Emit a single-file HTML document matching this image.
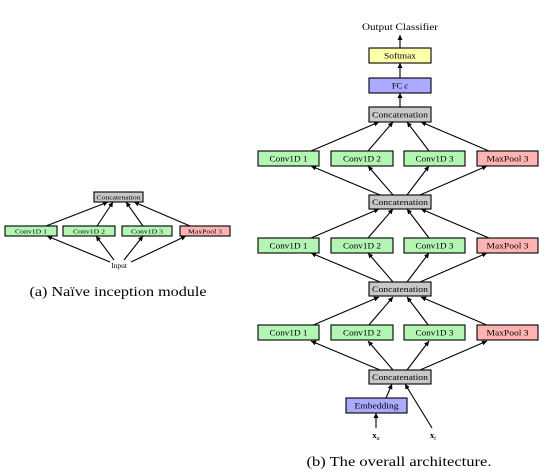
<!DOCTYPE html>
<html><head><meta charset="utf-8"><style>
body{margin:0;background:#fff;}
svg{display:block;}
text{font-family:"Liberation Serif",serif;fill:#000;}
</style></head><body>
<svg width="547" height="476" viewBox="0 0 547 476" xmlns="http://www.w3.org/2000/svg">
<defs>
<marker id="a" markerWidth="6" markerHeight="6" refX="5" refY="3" orient="auto" markerUnits="userSpaceOnUse">
<path d="M0,0.5 L5,3 L0,5.5 z" fill="#000"/>
</marker>
</defs>
<g stroke="#000" stroke-width="1.1" fill="none" marker-end="url(#a)">
<line x1="46" y1="226" x2="108" y2="202"/>
<line x1="97" y1="226" x2="113" y2="202"/>
<line x1="143" y1="226" x2="126" y2="202"/>
<line x1="190" y1="226" x2="134" y2="202"/>
<line x1="110" y1="262" x2="47" y2="236"/>
<line x1="114" y1="260" x2="96" y2="236"/>
<line x1="124" y1="260" x2="143" y2="236"/>
<line x1="131" y1="262" x2="186" y2="236"/>
<line x1="400" y1="48" x2="400" y2="35"/>
<line x1="400" y1="78" x2="400" y2="63"/>
<line x1="400" y1="107" x2="400" y2="93"/>
</g>
<g stroke="#000" stroke-width="1.1" fill="none" marker-end="url(#a)">
<g>
<line x1="311" y1="151" x2="379" y2="122"/><line x1="368" y1="151" x2="393" y2="122"/><line x1="429" y1="151" x2="407" y2="122"/><line x1="489" y1="151" x2="421" y2="122"/>
<line x1="380" y1="195" x2="311" y2="166"/><line x1="393" y1="195" x2="368" y2="166"/><line x1="407" y1="195" x2="429" y2="166"/><line x1="420" y1="195" x2="487" y2="166"/>
</g>
<g transform="translate(0,87)">
<line x1="311" y1="151" x2="379" y2="122"/><line x1="368" y1="151" x2="393" y2="122"/><line x1="429" y1="151" x2="407" y2="122"/><line x1="489" y1="151" x2="421" y2="122"/>
<line x1="380" y1="195" x2="311" y2="166"/><line x1="393" y1="195" x2="368" y2="166"/><line x1="407" y1="195" x2="429" y2="166"/><line x1="420" y1="195" x2="487" y2="166"/>
</g>
<g transform="translate(0,175)">
<line x1="311" y1="151" x2="379" y2="122"/><line x1="368" y1="151" x2="393" y2="122"/><line x1="429" y1="151" x2="407" y2="122"/><line x1="489" y1="151" x2="421" y2="122"/>
<line x1="380" y1="195" x2="311" y2="166"/><line x1="393" y1="195" x2="368" y2="166"/><line x1="407" y1="195" x2="429" y2="166"/><line x1="420" y1="195" x2="487" y2="166"/>
</g>
<line x1="386" y1="398" x2="392" y2="384"/>
<line x1="376" y1="428" x2="376" y2="413"/>
<line x1="432" y1="428" x2="405" y2="384"/>
</g>
<g stroke="#000" stroke-width="1.1">
<rect x="94" y="192" width="49" height="10" fill="#c8c8c8"/>
<rect x="5" y="226" width="52" height="10" fill="#b3f5b3"/>
<rect x="63" y="226" width="52" height="10" fill="#b3f5b3"/>
<rect x="122" y="226" width="50" height="10" fill="#b3f5b3"/>
<rect x="180" y="226" width="50" height="10" fill="#ffb3b3"/>
<rect x="369" y="48" width="62" height="15" fill="#ffffaa"/>
<rect x="369" y="78" width="62" height="15" fill="#aaaaff"/>
<rect x="369" y="107" width="62" height="15" fill="#c8c8c8"/>
<rect x="369" y="195" width="62" height="14" fill="#c8c8c8"/>
<rect x="369" y="282" width="62" height="14" fill="#c8c8c8"/>
<rect x="369" y="370" width="62" height="14" fill="#c8c8c8"/>
<rect x="346" y="398" width="61" height="15" fill="#aaaaff"/>
<g fill="#b3f5b3">
<rect x="258" y="151" width="61" height="15"/><rect x="331" y="151" width="62" height="15"/><rect x="404" y="151" width="61" height="15"/>
<rect x="258" y="238" width="61" height="15"/><rect x="331" y="238" width="62" height="15"/><rect x="404" y="238" width="61" height="15"/>
<rect x="258" y="325" width="61" height="15"/><rect x="331" y="325" width="62" height="15"/><rect x="404" y="325" width="61" height="15"/>
</g>
<g fill="#ffb3b3">
<rect x="477" y="151" width="61" height="15"/><rect x="477" y="238" width="61" height="15"/><rect x="477" y="325" width="61" height="15"/>
</g>
</g>
<g text-anchor="middle">
<g font-size="6">
<text x="118.5" y="199.5" textLength="44" lengthAdjust="spacingAndGlyphs">Concatenation</text>
<text x="31" y="233.5" textLength="32" lengthAdjust="spacingAndGlyphs">Conv1D 1</text>
<text x="89" y="233.5" textLength="32" lengthAdjust="spacingAndGlyphs">Conv1D 2</text>
<text x="147" y="233.5" textLength="32" lengthAdjust="spacingAndGlyphs">Conv1D 3</text>
<text x="205" y="233.5" textLength="34" lengthAdjust="spacingAndGlyphs">MaxPool 3</text>
</g>
<text x="119" y="268" font-size="7.5">Input</text>
<text x="118" y="296" font-size="14" textLength="177" lengthAdjust="spacingAndGlyphs">(a) Naïve inception module</text>
<g font-size="8.5">
<text x="400" y="30" font-size="9.5" textLength="76" lengthAdjust="spacingAndGlyphs">Output Classifier</text>
<text x="400" y="58.5" textLength="32" lengthAdjust="spacingAndGlyphs">Softmax</text>
<text x="400" y="88.5">FC <tspan font-style="italic">c</tspan></text>
<g textLength="56" lengthAdjust="spacingAndGlyphs">
<text x="400" y="117.5" textLength="56" lengthAdjust="spacingAndGlyphs">Concatenation</text>
<text x="400" y="205" textLength="56" lengthAdjust="spacingAndGlyphs">Concatenation</text>
<text x="400" y="292" textLength="56" lengthAdjust="spacingAndGlyphs">Concatenation</text>
<text x="400" y="380" textLength="56" lengthAdjust="spacingAndGlyphs">Concatenation</text>
</g>
<text x="376.5" y="408.5" textLength="44" lengthAdjust="spacingAndGlyphs">Embedding</text>
<text x="288.5" y="161.5" textLength="38" lengthAdjust="spacingAndGlyphs">Conv1D 1</text><text x="362" y="161.5" textLength="38" lengthAdjust="spacingAndGlyphs">Conv1D 2</text><text x="434.5" y="161.5" textLength="38" lengthAdjust="spacingAndGlyphs">Conv1D 3</text><text x="507.5" y="161.5" textLength="42" lengthAdjust="spacingAndGlyphs">MaxPool 3</text>
<text x="288.5" y="248.5" textLength="38" lengthAdjust="spacingAndGlyphs">Conv1D 1</text><text x="362" y="248.5" textLength="38" lengthAdjust="spacingAndGlyphs">Conv1D 2</text><text x="434.5" y="248.5" textLength="38" lengthAdjust="spacingAndGlyphs">Conv1D 3</text><text x="507.5" y="248.5" textLength="42" lengthAdjust="spacingAndGlyphs">MaxPool 3</text>
<text x="288.5" y="335.5" textLength="38" lengthAdjust="spacingAndGlyphs">Conv1D 1</text><text x="362" y="335.5" textLength="38" lengthAdjust="spacingAndGlyphs">Conv1D 2</text><text x="434.5" y="335.5" textLength="38" lengthAdjust="spacingAndGlyphs">Conv1D 3</text><text x="507.5" y="335.5" textLength="42" lengthAdjust="spacingAndGlyphs">MaxPool 3</text>
<text x="376" y="438" font-weight="bold">x<tspan font-size="6" dy="2" font-style="italic" font-weight="normal">a</tspan></text>
<text x="433" y="438" font-weight="bold">x<tspan font-size="6" dy="2" font-style="italic" font-weight="normal">t</tspan></text>
</g>
<text x="399" y="466" font-size="14" textLength="185" lengthAdjust="spacingAndGlyphs">(b) The overall architecture.</text>
</g>
</svg>
</body></html>
